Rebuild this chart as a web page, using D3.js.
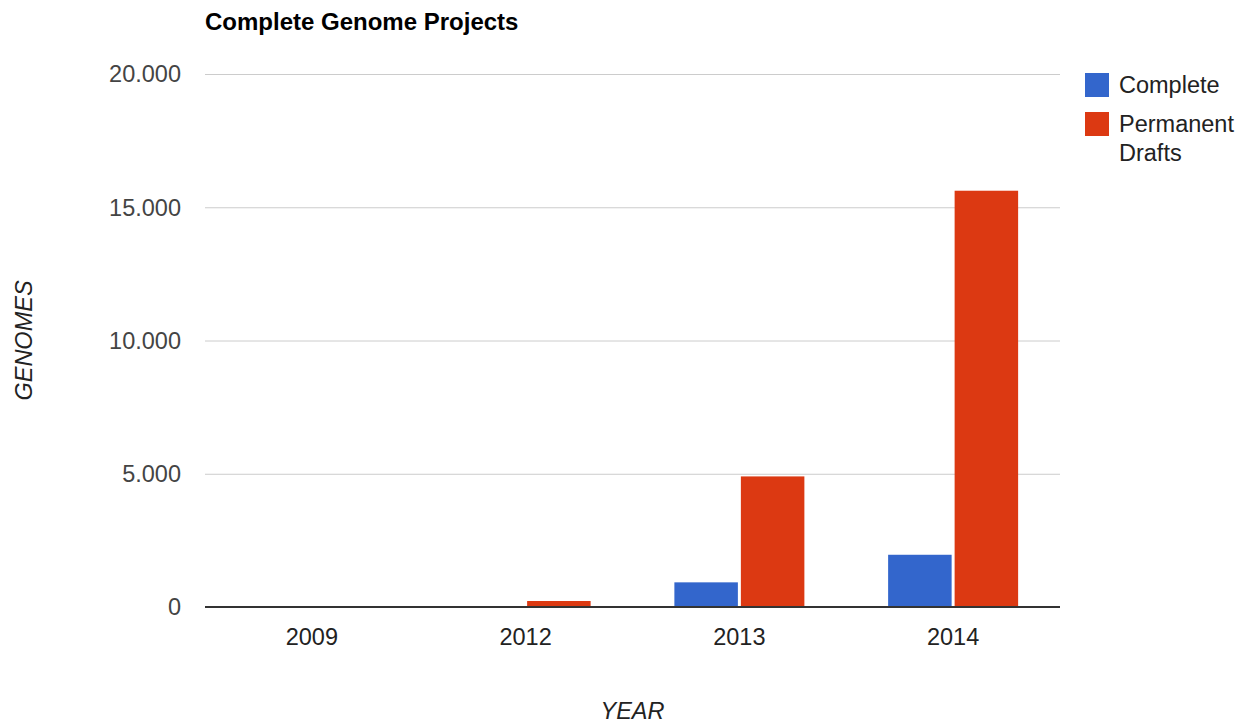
<!DOCTYPE html>
<html>
<head>
<meta charset="utf-8">
<script src="https://cdn.jsdelivr.net/npm/d3@7"></script>
<style>
  html, body { margin: 0; padding: 0; background: #fff; }
  svg { display: block; font-family: "Liberation Sans", Arial, sans-serif; }
</style>
</head>
<body>
<svg id="chart" width="1243" height="723"></svg>
<script>
// Genome project counts per year
const years = ["2009", "2012", "2013", "2014"];
const seriesNames = ["Complete", "Permanent Drafts"];
const complete = [0, 0, 925, 1960];
const permanentDrafts = [0, 225, 4900, 15620];
const yTicks = [0, 5000, 10000, 15000, 20000];
const seriesColors = ["#3366cc", "#dc3912"];

const svg = d3.select("#chart");
const plot = { left: 205, right: 1060, top: 74, bottom: 607 };

const rows = years.map((y, i) => ({ year: y, values: [complete[i], permanentDrafts[i]] }));

const x = d3.scaleBand().domain(years).range([plot.left, plot.right]).paddingInner(0).paddingOuter(0);
const groupWidth = 130;
const xInner = d3.scaleBand().domain(d3.range(seriesNames.length)).range([0, groupWidth]).paddingInner(0.045);
const y = d3.scaleLinear().domain([0, 20000]).range([plot.bottom, plot.top]);

// thousands separator as a dot
const fmt = d3.formatLocale({ decimal: ",", thousands: ".", grouping: [3], currency: ["", ""] }).format(",d");

// gridlines
svg.append("g")
  .selectAll("line")
  .data(yTicks.filter(t => t !== 0))
  .join("line")
  .attr("x1", plot.left).attr("x2", plot.right)
  .attr("y1", d => y(d) + 0.5).attr("y2", d => y(d) + 0.5)
  .attr("stroke", "#cccccc").attr("stroke-width", 1);

// y tick labels
svg.append("g")
  .selectAll("text")
  .data(yTicks)
  .join("text")
  .attr("x", 181)
  .attr("y", d => y(d))
  .attr("dy", "0.36em")
  .attr("text-anchor", "end")
  .attr("font-size", 23.5)
  .attr("fill", "#444444")
  .text(d => fmt(d));

// bars
const groups = svg.append("g")
  .selectAll("g")
  .data(rows)
  .join("g")
  .attr("transform", d => `translate(${x(d.year) + (x.bandwidth() - groupWidth) / 2},0)`);

groups.selectAll("rect")
  .data(d => d.values.map((v, i) => ({ v, i })))
  .join("rect")
  .filter(d => d.v > 0)
  .attr("x", d => xInner(d.i))
  .attr("width", xInner.bandwidth())
  .attr("y", d => y(d.v))
  .attr("height", d => y(0) - y(d.v))
  .attr("fill", d => seriesColors[d.i]);

// baseline
svg.append("line")
  .attr("x1", plot.left).attr("x2", plot.right)
  .attr("y1", y(0)).attr("y2", y(0))
  .attr("stroke", "#333333").attr("stroke-width", 2);

// x tick labels
svg.append("g")
  .selectAll("text")
  .data(years)
  .join("text")
  .attr("x", d => x(d) + x.bandwidth() / 2)
  .attr("y", 645)
  .attr("text-anchor", "middle")
  .attr("font-size", 23.5)
  .attr("fill", "#222222")
  .text(d => d);

// title
svg.append("text")
  .attr("x", 205).attr("y", 30)
  .attr("font-size", 24)
  .attr("font-weight", "bold")
  .attr("fill", "#000")
  .text("Complete Genome Projects");

// axis titles
svg.append("text")
  .attr("x", (plot.left + plot.right) / 2).attr("y", 719)
  .attr("text-anchor", "middle")
  .attr("font-size", 23.5)
  .attr("font-style", "italic")
  .attr("fill", "#222222")
  .text("YEAR");

svg.append("text")
  .attr("transform", `translate(32,${(plot.top + plot.bottom) / 2}) rotate(-90)`)
  .attr("text-anchor", "middle")
  .attr("font-size", 23.5)
  .attr("font-style", "italic")
  .attr("fill", "#222222")
  .text("GENOMES");

// legend
const legendLines = [["Complete"], ["Permanent", "Drafts"]];
const legend = svg.append("g");
const legendTops = [73, 112];
legendLines.forEach((lines, i) => {
  legend.append("rect")
    .attr("x", 1085).attr("y", legendTops[i])
    .attr("width", 24).attr("height", 24)
    .attr("fill", seriesColors[i]);
  const t = legend.append("text")
    .attr("x", 1119).attr("y", legendTops[i] + 20)
    .attr("font-size", 23.5)
    .attr("fill", "#222222");
  lines.forEach((ln, j) => {
    t.append("tspan").attr("x", 1119).attr("dy", j === 0 ? 0 : 29).text(ln);
  });
});
</script>
</body>
</html>
